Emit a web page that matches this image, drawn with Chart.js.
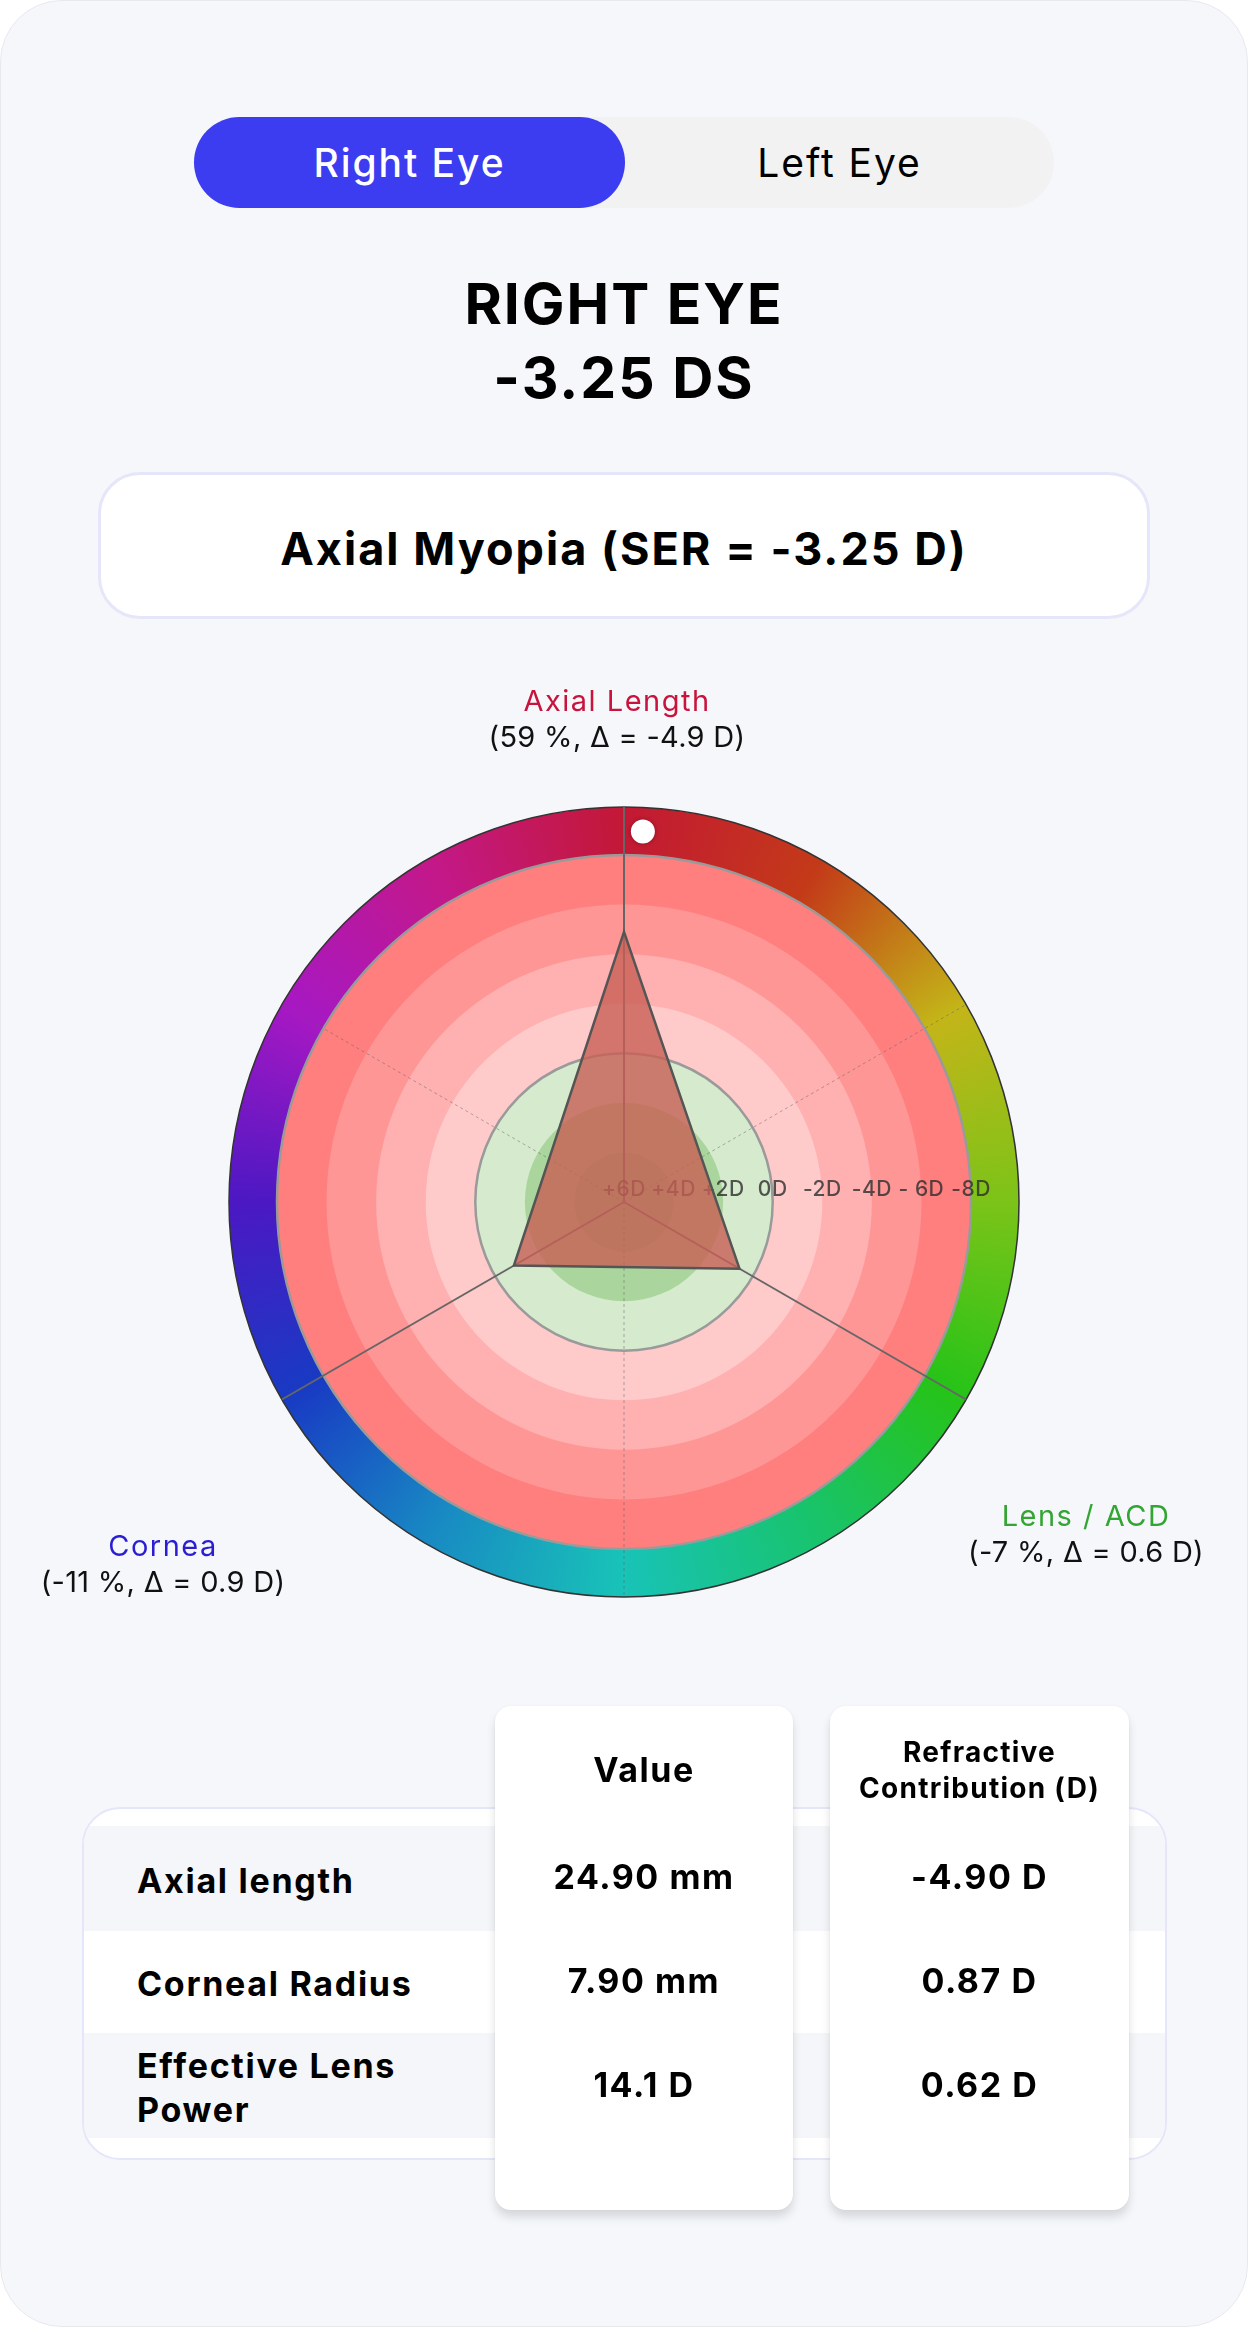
<!DOCTYPE html>
<html>
<head>
<meta charset="utf-8">
<script src="https://cdn.jsdelivr.net/npm/chart.js@4.4.1/dist/chart.umd.min.js"></script>
<style>
  html, body { margin: 0; padding: 0; background: #fff; }
  body { width: 1248px; height: 2327px; position: relative; overflow: hidden; font-family: Inter, "Noto Sans", sans-serif; color: #000; }
  .page { position: absolute; left: 0; top: 0; width: 1246px; height: 2325px; background: #f6f7fb; border: 1px solid #e8e8ee; border-radius: 62px; }
  .abs { position: absolute; }
  .toggle { left: 194px; top: 117px; width: 860px; height: 91px; border-radius: 46px; background: #f2f2f3; }
  .toggle .on { position: absolute; left: 0; top: 0; width: 431px; height: 91px; border-radius: 46px; background: #3c3cf0; }
  .toggle span { position: absolute; top: 0; height: 91px; line-height: 91px; text-align: center; font-size: 39px; letter-spacing: 0.05em; }
  .heading { left: 0; width: 1248px; text-align: center; font-weight: 700; font-size: 57px; letter-spacing: 0.035em; }
  .resultBox { left: 98px; top: 472px; width: 1046px; height: 141px; background: #fff; border: 3px solid #e6e6fa; border-radius: 42px; text-align: center; line-height: 147px; font-weight: 700; font-size: 45px; letter-spacing: 0.045em; }
  #chartWrap { position: absolute; left: 0; top: 640px; width: 1248px; height: 1060px; }
  .tableCard { left: 82px; top: 1807px; width: 1081px; height: 349px; background: #fff; border: 2px solid #e6e6fa; border-radius: 38px; overflow: hidden; }
  .stripe { position: absolute; left: 0; width: 100%; }
  .rowName { position: absolute; left: 53px; width: 310px; font-weight: 700; font-size: 34px; letter-spacing: 0.05em; line-height: 44px; transform: translateY(-50%); }
  .colCard { top: 1706px; height: 504px; background: #fff; border-radius: 16px; box-shadow: 0 7px 10px rgba(0,0,0,0.13), 0 0 3px rgba(0,0,0,0.05); }
  .colCard div { position: absolute; left: 0; width: 100%; text-align: center; font-weight: 700; letter-spacing: 0.045em; transform: translateY(-50%); }
</style>
</head>
<body>
<div class="page"></div>

<div class="abs toggle">
  <div class="on"></div>
  <span style="left:0;width:431px;color:#fff;font-weight:500;">Right Eye</span>
  <span style="left:431px;width:429px;color:#000;">Left Eye</span>
</div>

<div class="abs heading" style="top:266px;line-height:76px;">RIGHT EYE</div>
<div class="abs heading" style="top:340px;line-height:76px;">-3.25 DS</div>

<div class="abs resultBox">Axial Myopia (SER = -3.25 D)</div>

<div id="chartWrap"><canvas id="myChart"></canvas></div>

<div class="abs tableCard" id="tableCard"></div>
<div class="abs colCard" id="valueCol" style="left:495px;width:298px;"></div>
<div class="abs colCard" id="contribCol" style="left:830px;width:299px;"></div>

<script>
// Radar axes (clockwise from top)
var axisNames = ["Axial Length", "Lens / ACD", "Cornea"];
var axisShare = [59, -7, -11];            // % of SER
var axisDelta = [-4.90, 0.62, 0.87];      // refractive contribution, D

// Radial scale: +6D at centre, -8D at the rim
var tickValues = [6, 4, 2, 0, -2, -4, -6, -8];
var tickLabels = ["+6D", "+4D", "+2D", "0D", "-2D", "-4D", "- 6D", "-8D"];

// Table
var rowNames = ["Axial length", "Corneal Radius", "Effective Lens Power"];
var rowValues = ["24.90 mm", "7.90 mm", "14.1 D"];
var rowContrib = ["-4.90 D", "0.87 D", "0.62 D"];

// styling
var axisColors = ["#c8143c", "#33a532", "#2a1ed2"];
var labelOffsets = [[-7, -500], [462, 315], [-461, 345]];
var bandColors = { "-8": "#ff7f7f", "-6": "#ff9696", "-4": "#ffb0b0", "-2": "#ffcaca", "0": "#d6eace", "2": "#aad69d", "4": "#96cb88" };
var ringHues = [350, 372, 415, 445, 475, 510, 536, 560, 588, 618, 650, 680, 710];
var FONT = "Inter, 'Noto Sans', sans-serif";

var eyeDial = {
  id: "eyeDial",
  beforeDraw: function (chart) {
    var ctx = chart.ctx, s = chart.scales.r;
    var cx = s.xCenter, cy = s.yCenter, R = s.drawingArea, ringR = R + 48;
    ctx.save();
    // hue ring
    var g = ctx.createConicGradient(-Math.PI / 2, cx, cy);
    ringHues.forEach(function (h, i) {
      g.addColorStop(i / (ringHues.length - 1), "hsl(" + h + ",78%,43%)");
    });
    ctx.beginPath();
    ctx.arc(cx, cy, ringR, 0, Math.PI * 2);
    ctx.fillStyle = g;
    ctx.fill();
    ctx.lineWidth = 1.5;
    ctx.strokeStyle = "#333";
    ctx.stroke();
    // dioptre bands, largest first
    var vals = tickValues.slice().sort(function (a, b) { return a - b; });
    vals.forEach(function (v) {
      var r = s.getDistanceFromCenterForValue(v);
      if (r <= 0) return;
      ctx.beginPath();
      ctx.arc(cx, cy, r, 0, Math.PI * 2);
      ctx.fillStyle = bandColors[String(v)];
      ctx.fill();
    });
    ctx.restore();
  },
  beforeDatasetsDraw: function (chart) {
    var ctx = chart.ctx, s = chart.scales.r;
    var cx = s.xCenter, cy = s.yCenter, ringR = s.drawingArea + 48;
    ctx.save();
    // dashed spokes between axes
    ctx.strokeStyle = "rgba(90,90,90,0.45)";
    ctx.lineWidth = 1;
    ctx.setLineDash([3, 3]);
    for (var i = 0; i < axisNames.length; i++) {
      var p = s.getPointPosition(i + 0.5, ringR);
      ctx.beginPath(); ctx.moveTo(cx, cy); ctx.lineTo(p.x, p.y); ctx.stroke();
    }
    // solid spokes on each axis
    ctx.setLineDash([]);
    ctx.strokeStyle = "#666";
    ctx.lineWidth = 2;
    for (var j = 0; j < axisNames.length; j++) {
      var q = s.getPointPosition(j, ringR);
      ctx.beginPath(); ctx.moveTo(cx, cy); ctx.lineTo(q.x, q.y); ctx.stroke();
    }
    // tick labels along the right radius
    ctx.font = "500 21px " + FONT;
    ctx.letterSpacing = "0.5px";
    ctx.fillStyle = "rgba(45,45,45,0.8)";
    ctx.textAlign = "center";
    ctx.textBaseline = "middle";
    tickValues.forEach(function (v, k) {
      var r = s.getDistanceFromCenterForValue(v);
      ctx.fillText(tickLabels[k], cx + r, cy - 12);
    });
    ctx.restore();
  },
  afterDraw: function (chart) {
    var ctx = chart.ctx, s = chart.scales.r;
    var cx = s.xCenter, cy = s.yCenter, R = s.drawingArea;
    ctx.save();
    // marker on ring: direction of the weighted axis shares
    var vx = 0, vy = 0;
    axisShare.forEach(function (p, i) {
      var a = s.getIndexAngle(i) - Math.PI / 2;
      vx += p * Math.cos(a); vy += p * Math.sin(a);
    });
    var ang = Math.atan2(vy, vx), rm = R + 24;
    ctx.shadowColor = "rgba(0,0,0,0.35)";
    ctx.shadowBlur = 4;
    ctx.beginPath();
    ctx.arc(cx + rm * Math.cos(ang), cy + rm * Math.sin(ang), 12, 0, Math.PI * 2);
    ctx.fillStyle = "#fff";
    ctx.fill();
    ctx.shadowColor = "transparent";
    // axis labels
    ctx.textAlign = "center";
    ctx.textBaseline = "middle";
    ctx.font = "29px " + FONT;
    axisNames.forEach(function (name, i) {
      var x = cx + labelOffsets[i][0], y = cy + labelOffsets[i][1];
      ctx.letterSpacing = "1.5px";
      ctx.fillStyle = axisColors[i];
      ctx.fillText(name, x, y);
      ctx.letterSpacing = "0.3px";
      ctx.fillStyle = "#111";
      ctx.fillText("(" + axisShare[i] + " %, \u0394 = " + axisDelta[i].toFixed(1) + " D)", x, y + 36);
    });
    ctx.restore();
  }
};

var ctx = document.getElementById("myChart").getContext("2d");
var myChart = new Chart(ctx, {
  type: "radar",
  data: {
    labels: axisNames,
    datasets: [
      {
        data: axisDelta,
        backgroundColor: "rgba(200,95,85,0.8)",
        borderColor: "#555",
        borderWidth: 2.5,
        pointRadius: 0,
        pointHoverRadius: 0,
      },
    ],
  },
  options: {
    responsive: true,
    maintainAspectRatio: false,
    animation: false,
    layout: { padding: { left: 277, right: 277, top: 215, bottom: 151 } },
    plugins: { legend: { display: false }, tooltip: { enabled: false } },
    scales: {
      r: {
        min: -8,
        max: 6,
        reverse: true,
        ticks: { stepSize: 2, display: false },
        pointLabels: { display: false },
        angleLines: { display: false },
        grid: {
          circular: true,
          lineWidth: 2.5,
          color: function (c) {
            return c.tick && (c.tick.value === 0 || c.tick.value === -8) ? "#9a9a9a" : "transparent";
          },
        },
      },
    },
  },
  plugins: [eyeDial],
});

// table
var card = document.getElementById("tableCard");
var stripeTops = [17, 122, 224], stripeH = [105, 102, 105];
rowNames.forEach(function (name, i) {
  var st = document.createElement("div");
  st.className = "stripe";
  st.style.top = stripeTops[i] + "px";
  st.style.height = stripeH[i] + "px";
  st.style.background = i % 2 === 0 ? "#f5f6fa" : "#fff";
  card.appendChild(st);
  var nm = document.createElement("div");
  nm.className = "rowName";
  nm.style.top = stripeTops[i] + stripeH[i] / 2 + 2 + "px";
  nm.textContent = name;
  card.appendChild(nm);
});

function fillColumn(el, headerHtml, headerSize, cells) {
  var h = document.createElement("div");
  h.innerHTML = headerHtml;
  h.style.top = "64px";
  h.style.fontSize = headerSize + "px";
  h.style.lineHeight = headerSize > 30 ? "44px" : "36px";
  el.appendChild(h);
  cells.forEach(function (txt, i) {
    var d = document.createElement("div");
    d.textContent = txt;
    d.style.top = 170 + i * 104 + "px";
    d.style.fontSize = "34px";
    el.appendChild(d);
  });
}
fillColumn(document.getElementById("valueCol"), "Value", 34, rowValues);
fillColumn(document.getElementById("contribCol"), "Refractive<br>Contribution (D)", 28, rowContrib);
</script>
</body>
</html>
